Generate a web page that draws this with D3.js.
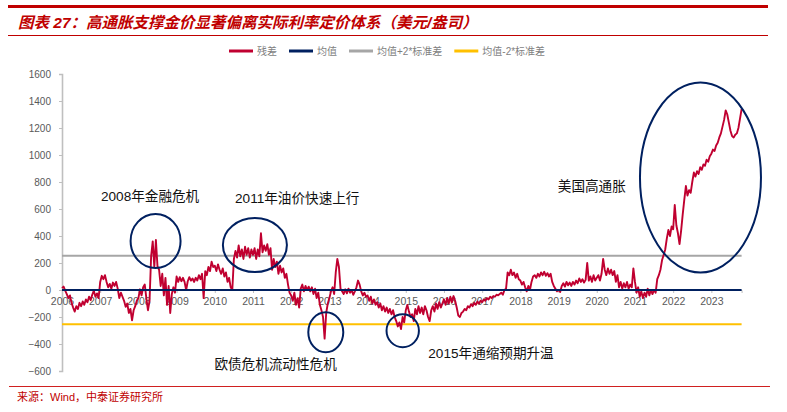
<!DOCTYPE html>
<html>
<head>
<meta charset="utf-8">
<script src="https://cdn.jsdelivr.net/npm/d3@7"></script>
<style>
  body { margin: 0; background: #fff; }
  text { font-family: "Liberation Sans", "Noto Sans CJK SC", sans-serif; }
</style>
</head>
<body>
<script>
// Data: residual sampled twice a month, starting Jan 2006
const seriesStart = 2006;
const pointsPerYear = 24;
const residual = [
  // 2006
  15, 25, -5, -30, -60, -40, -95, -130, -160, -120, -140, -95, -120, -85, -110, -70, -90, -50, -75, -35, -5, -50, -25, -60,
  // 2007
  60, 105, 80, 110, 60, 20, 45, 10, 55, 30, 60, 10, -60, -20, -50, -80, -125, -100, -170, -140, -225, -150, -120, -80,
  // 2008
  -60, 5, -40, 20, 40, -60, -150, -80, 250, 360, 170, 370, 175, 150, 30, 120, -40, 90, -110, 30, -170, -30, 20, -20,
  // 2009
  100, 60, 95, 65, 90, 60, 0, 65, 95, 70, 85, 60, 90, 70, 110, 80, 120, -60, 140, 110, 170, 140, 210, 170,
  // 2010
  180, 140, 190, 150, 120, 160, 100, 130, 60, 90, 20, 0, 230, 290, 240, 330, 250, 300, 230, 320, 260, 310, 240, 300,
  // 2011
  260, 310, 230, 300, 250, 420, 280, 330, 290, 340, 260, 310, 150, 230, 170, 210, 120, 180, 130, 160, 90, 120, 40, -20,
  // 2012
  -40, -80, -20, -110, -60, -130, 10, 40, -10, 30, 0, 25, -10, 20, -30, 10, -60, -20, -110, -150, -200, -360, -170, -100,
  // 2013
  -60, -10, 20, -30, 130, 230, 170, 10, -10, -30, 5, -25, 10, -20, 0, -35, -10, 20, 70, 40, -10, -40, -20, -50,
  // 2014
  -40, -80, -50, -100, -70, -110, -90, -130, -100, -150, -120, -160, -130, -170, -140, -180, -150, -200, -230, -270, -240, -290, -200, -240,
  // 2015
  -150, -110, -160, -200, -180, -230, -140, -180, -120, -170, -130, -180, -120, -150, -200, -230, -150, -120, -160, -100, -140, -90, -130, -100,
  // 2016
  -70, -110, -60, -100, -50, -90, -45, -80, -130, -190, -200, -170, -160, -140, -150, -120, -130, -105, -120, -95, -110, -85, -100, -80,
  // 2017
  -90, -70, -80, -60, -70, -50, -60, -45, -50, -35, -40, -30, -20, -35, 0, 10, 130, 110, 150, 110, 130, 90, 120, 80,
  // 2018
  70, 40, 60, 20, -10, 30, 0, 60, 100, 110, 90, 120, 100, 130, 110, 135, 105, 125, 100, 120, 60, 30, 10, -10,
  // 2019
  0, -15, 30, 50, 25, 60, 35, 55, 30, 60, 40, 70, 50, 85, 60, 80, 55, 75, 200, 70, 100, 60, 110, 70,
  // 2020
  90, 110, 70, 120, 230, 150, 110, 160, 120, 150, 110, 140, 60, 110, 20, 60, 10, 50, 20, 60, 10, 40, 20, 160,
  // 2021
  60, -20, 20, -50, -10, -60, -20, -50, 10, -40, 0, -30, 0, -20, 80, 110, 150, 220, 260, 300, 380, 445, 400, 470,
  // 2022
  450, 630, 480, 420, 340, 440, 560, 670, 770, 700, 740, 720, 800, 870, 840, 880, 860, 910, 890, 930, 920, 965, 950, 990,
  // 2023 (to Oct)
  1010, 1040, 1030, 1070, 1090, 1130, 1160, 1210, 1260, 1330, 1300, 1240, 1180, 1140, 1130, 1150, 1160, 1200, 1270, 1340
];

const meanValue = 0;
const upperBand = 254;   // 均值+2*标准差
const lowerBand = -254;  // 均值-2*标准差

const yearTicks = d3.range(2006, 2024);
const valueTicks = d3.range(-600, 1601, 200);

const legendLabels = ["残差", "均值", "均值+2*标准差", "均值-2*标准差"];

// annotation ellipses: centre in (year, value), radii in (years, value units)
const events = [
  { year: 2008.45, value: 363, ry: 200, rx: 0.654 },
  { year: 2011.05, value: 333, ry: 200, rx: 0.838 },
  { year: 2012.906, value: -313, ry: 148, rx: 0.458 },
  { year: 2014.92, value: -302, ry: 122, rx: 0.424 },
  { year: 2022.715, value: 833, ry: 704, rx: 1.584 }
];
const eventLabels = [
  { text: "2008年金融危机", year: 2007.02, value: 696 },
  { text: "2011年油价快速上行", year: 2010.53, value: 679 },
  { text: "欧债危机流动性危机", year: 2009.99, value: -550 },
  { text: "2015年通缩预期升温", year: 2015.59, value: -464 },
  { text: "美国高通胀", year: 2018.98, value: 770 }
];

const colors = {
  residual: "#C00030",
  mean: "#002060",
  upper: "#A6A6A6",
  lower: "#FFC000",
  brand: "#C00000"
};

const W = 787, H = 412;
const svg = d3.select("body").append("svg")
  .attr("width", W)
  .attr("height", H);

// header
svg.append("rect").attr("x", 8).attr("y", 5).attr("width", 760).attr("height", 3)
  .attr("fill", colors.brand);
svg.append("text")
  .attr("x", 18).attr("y", 28)
  .attr("font-size", 15.5)
  .attr("font-weight", "bold")
  .attr("font-style", "italic")
  .attr("fill", colors.brand)
  .text("图表 27：高通胀支撑金价显著偏离实际利率定价体系（美元/盎司）");
svg.append("line").attr("x1", 8).attr("x2", 768).attr("y1", 35.5).attr("y2", 35.5)
  .attr("stroke", colors.brand).attr("stroke-width", 1);

// scales
const dates = residual.map((v, i) => seriesStart + i / pointsPerYear);
const x = d3.scaleLinear()
  .domain([seriesStart, dates[dates.length - 1]])
  .range([62, 741.6]);
const y = d3.scaleLinear()
  .domain([-600, 1600])
  .range([371, 74]);

// y axis
const yAxis = svg.append("g")
  .attr("transform", `translate(${x.range()[0]},0)`)
  .call(d3.axisLeft(y).tickValues(valueTicks).tickFormat(d3.format("d")).tickSize(3).tickPadding(8));
yAxis.select(".domain").attr("stroke", "#BFBFBF").attr("stroke-width", 1.6);
yAxis.selectAll(".tick line").attr("stroke", "#BFBFBF");
yAxis.selectAll("text")
  .attr("fill", "#595959")
  .attr("font-size", 10)
  .attr("font-family", "Liberation Sans, Arial, sans-serif");

// x axis at zero
const xAxis = svg.append("g")
  .attr("transform", `translate(0,${y(0)})`)
  .call(d3.axisBottom(x).tickValues(yearTicks).tickFormat(d3.format("d")).tickSize(3).tickPadding(5));
xAxis.select(".domain").attr("stroke", "#BFBFBF");
xAxis.selectAll(".tick line").attr("stroke", "#BFBFBF");
xAxis.selectAll("text")
  .attr("fill", "#595959")
  .attr("font-size", 10.5)
  .attr("font-family", "Liberation Sans, Arial, sans-serif");

// reference bands
const [x0, x1] = x.domain();
function refLine(value, color) {
  svg.append("line")
    .attr("x1", x(x0)).attr("x2", x(x1))
    .attr("y1", y(value)).attr("y2", y(value))
    .attr("stroke", color)
    .attr("stroke-width", 2);
}
refLine(upperBand, colors.upper);
refLine(lowerBand, colors.lower);

// residual
const line = d3.line()
  .x((d, i) => x(dates[i]))
  .y(d => y(d));
svg.append("path")
  .datum(residual)
  .attr("d", line)
  .attr("fill", "none")
  .attr("stroke", colors.residual)
  .attr("stroke-width", 1.9)
  .attr("stroke-linejoin", "round");

refLine(meanValue, colors.mean);

// ellipses
svg.append("g")
  .selectAll("ellipse")
  .data(events)
  .enter()
  .append("ellipse")
  .attr("cx", d => x(d.year))
  .attr("cy", d => y(d.value))
  .attr("rx", d => x(seriesStart + d.rx) - x(seriesStart))
  .attr("ry", d => y(0) - y(d.ry))
  .attr("fill", "none")
  .attr("stroke", colors.mean)
  .attr("stroke-width", 2);

svg.append("g")
  .selectAll("text")
  .data(eventLabels)
  .enter()
  .append("text")
  .attr("x", d => x(d.year))
  .attr("y", d => y(d.value))
  .attr("dy", "0.36em")
  .attr("font-size", 13.6)
  .attr("fill", "#111")
  .text(d => d.text);

// legend
const legendColors = [colors.residual, colors.mean, colors.upper, colors.lower];
const legend = svg.append("g").attr("transform", "translate(229,51)");
let lx = 0;
legendLabels.forEach((label, i) => {
  legend.append("line")
    .attr("x1", lx).attr("x2", lx + 24)
    .attr("stroke", legendColors[i])
    .attr("stroke-width", 3);
  const t = legend.append("text")
    .attr("x", lx + 28)
    .attr("dy", "0.35em")
    .attr("font-size", 10)
    .attr("fill", "#7F7F7F")
    .attr("font-family", "Noto Sans CJK SC, sans-serif")
    .text(label);
  lx += 28 + t.node().getComputedTextLength() + 12;
});

// footer
svg.append("line").attr("x1", 9).attr("x2", 770).attr("y1", 386.5).attr("y2", 386.5)
  .attr("stroke", "#D02020").attr("stroke-width", 1);
svg.append("text")
  .attr("x", 17).attr("y", 397)
  .attr("dy", "0.35em")
  .attr("font-size", 11)
  .attr("fill", colors.brand)
  .text("来源：Wind，中泰证券研究所");
</script>
</body>
</html>
